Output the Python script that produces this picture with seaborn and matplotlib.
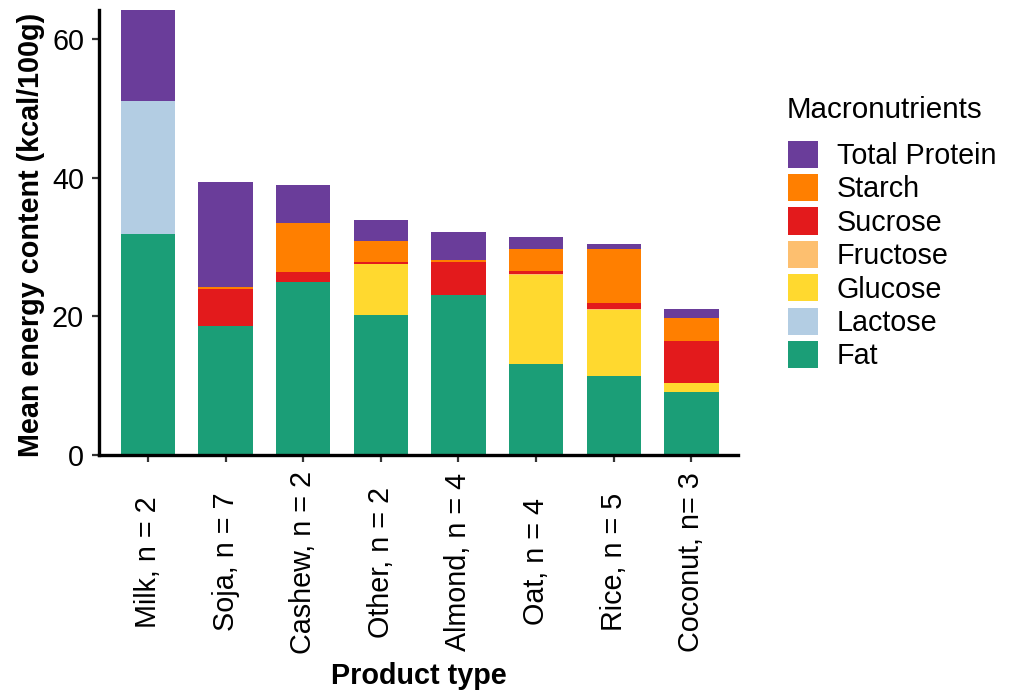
import numpy as np
import pandas as pd
import matplotlib
matplotlib.use("Agg")
import matplotlib.pyplot as plt
from matplotlib.patches import Patch
import seaborn as sns

# Product groups (x axis) and mean energy per macronutrient (kcal/100g)
products = ["Milk, n = 2", "Soja, n = 7", "Cashew, n = 2", "Other, n = 2",
            "Almond, n = 4", "Oat, n = 4", "Rice, n = 5", "Coconut, n= 3"]

fat = [31.9, 18.6, 25.0, 20.2, 23.1, 13.2, 11.4, 9.1]
lactose = [19.2, 0.0, 0.0, 0.0, 0.0, 0.0, 0.0, 0.0]
glucose = [0.0, 0.0, 0.0, 7.3, 0.0, 12.7, 9.5, 1.3]
fructose = [0.0, 0.0, 0.0, 0.1, 0.0, 0.15, 0.2, 0.0]
sucrose = [0.0, 5.4, 1.4, 0.25, 4.8, 0.55, 0.8, 6.05]
starch = [0.0, 0.3, 7.1, 3.05, 0.2, 3.1, 7.8, 3.25]
protein = [13.1, 15.05, 5.5, 2.95, 4.0, 1.75, 0.7, 1.4]

# Stacking order from the baseline upward
layers = ["Fat", "Lactose", "Glucose", "Fructose", "Sucrose", "Starch", "Total Protein"]
values = {"Fat": fat, "Lactose": lactose, "Glucose": glucose, "Fructose": fructose,
          "Sucrose": sucrose, "Starch": starch, "Total Protein": protein}
colors = {"Total Protein": "#6A3D9A", "Starch": "#FF7F00", "Sucrose": "#E31A1C",
          "Fructose": "#FDBF6F", "Glucose": "#FFD92F", "Lactose": "#B3CDE3",
          "Fat": "#1B9E77"}

sns.set_theme(style="ticks")
plt.rcParams["font.family"] = ["Liberation Sans", "DejaVu Sans"]
plt.rcParams["text.color"] = "black"

FS = 20.7

fig = plt.figure(figsize=(10.1, 6.94), dpi=100)
ax = fig.add_axes([99 / 1010, 1 - 455 / 694, (738 - 99) / 1010, (455 - 10) / 694])

bottom = np.zeros(len(products))
for name in layers:
    df = pd.DataFrame({"product": products, "kcal": values[name]})
    sns.barplot(data=df, x="product", y="kcal", order=products, color=colors[name],
                width=0.7, bottom=bottom.copy(), linewidth=0, saturation=1,
                errorbar=None, ax=ax)
    bottom += np.array(values[name])

ax.set_ylim(0, bottom.max())
ax.set_xlim(-0.63, 7.6)
ax.set_yticks([0, 20, 40, 60])
ax.set_xlabel("")
ax.set_ylabel("")

for side in ["top", "right"]:
    ax.spines[side].set_visible(False)
for side in ["left", "bottom"]:
    ax.spines[side].set_linewidth(2.4)
    ax.spines[side].set_color("black")

ax.tick_params(axis="y", length=5, width=1.6, color="#333333", pad=5.8,
               labelsize=FS, labelcolor="black")
ax.tick_params(axis="x", length=5, width=1.6, color="#333333", pad=72,
               labelsize=FS, labelcolor="black")
for lab in ax.get_xticklabels():
    lab.set_rotation(90)
    lab.set_ha("center")
    lab.set_va("center")

fig.text(419 / 1010, 1 - 676 / 694, "Product type", ha="center", va="center",
         fontsize=FS, fontweight="bold")
fig.text(31 / 1010, 1 - 235 / 694, "Mean energy content (kcal/100g)", ha="center",
         va="center", rotation=90, fontsize=FS, fontweight="bold")

# Legend: title drawn separately so the gap to the keys can be set freely
fig.text(787 / 1010, 1 - 117.5 / 694, "Macronutrients", ha="left", va="baseline",
         fontsize=21.3)
legend_order = ["Total Protein", "Starch", "Sucrose", "Fructose", "Glucose", "Lactose", "Fat"]
handles = [Patch(facecolor=colors[n], edgecolor="none") for n in legend_order]
fig.legend(handles, legend_order, loc="upper left",
           bbox_to_anchor=(788 / 1010, 1 - 140.5 / 694),
           frameon=False, fontsize=FS,
           handlelength=1.05, handleheight=1.08, labelspacing=0.14,
           handletextpad=0.64, borderpad=0, borderaxespad=0)

fig.savefig("out.png", dpi=100)
